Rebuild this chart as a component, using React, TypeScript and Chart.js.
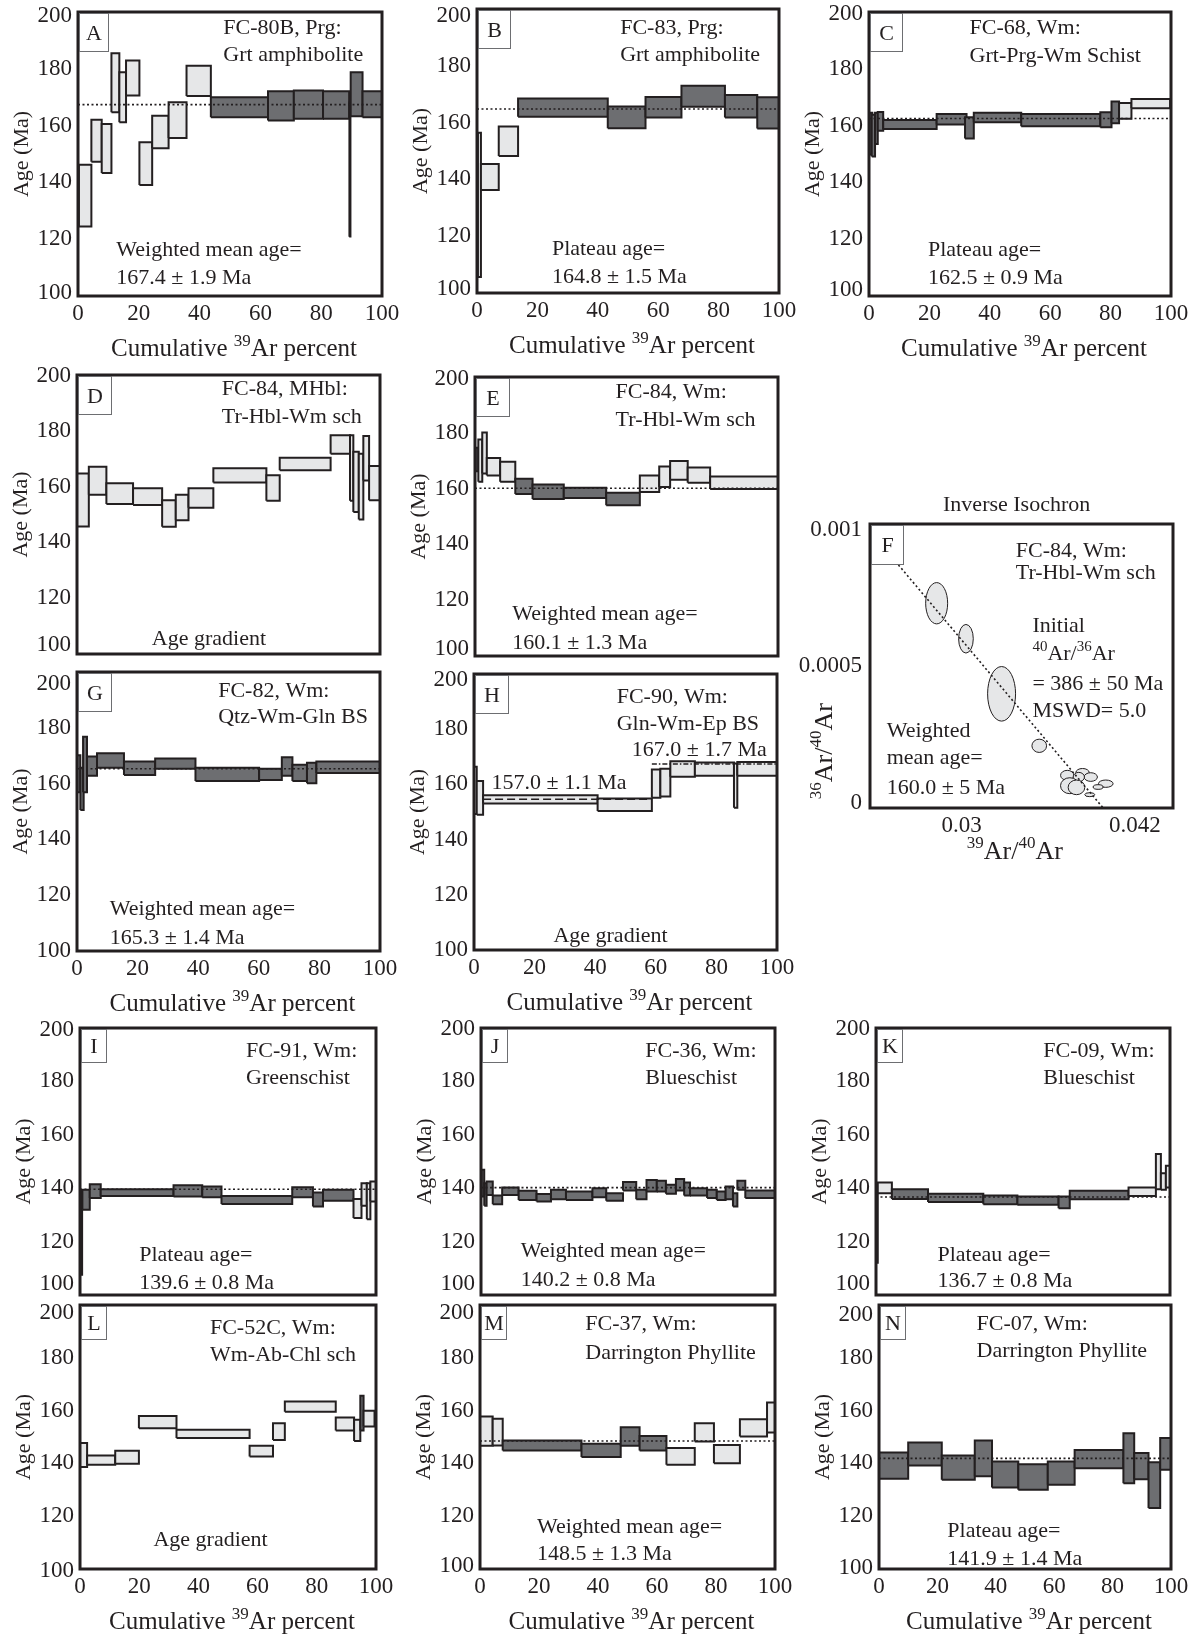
import React, { useEffect, useRef } from 'react';
import { Chart, registerables } from 'chart.js';

Chart.register(...registerables);

const SERIF = '"Liberation Serif", "Times New Roman", Times, serif';
const INK = '#231f20';
const FILL_LIGHT = '#e6e7e8';
const FILL_DARK = '#6d6e71';

// ---------------- data ----------------
// step: [from %39Ar, to %39Ar, low age (Ma), high age (Ma), tone]
type Tone = 'L' | 'D' | 'K';
type Step = [number, number, number, number, Tone];

const ageTicks = [100, 120, 140, 160, 180, 200];
const pctTicks = [0, 20, 40, 60, 80, 100];

const stepsA: Step[] = [
  [0.3, 4.4, 124.5, 146.2, 'L'],
  [4.4, 7.8, 147.3, 162.1, 'L'],
  [7.8, 11.0, 143.3, 160.6, 'L'],
  [11.0, 13.6, 164.7, 185.5, 'L'],
  [13.6, 15.8, 161.2, 178.8, 'L'],
  [15.8, 20.2, 170.6, 182.9, 'L'],
  [20.2, 24.4, 139.1, 154.1, 'L'],
  [24.4, 29.8, 152.0, 163.5, 'L'],
  [29.8, 35.7, 155.6, 168.2, 'L'],
  [35.7, 43.7, 170.4, 181.1, 'L'],
  [43.7, 62.5, 162.9, 170.0, 'D'],
  [62.5, 71.0, 161.8, 172.1, 'D'],
  [71.0, 80.6, 162.4, 172.4, 'D'],
  [80.6, 89.2, 162.4, 172.1, 'D'],
  [89.2, 89.7, 120.9, 168.2, 'K'],
  [89.7, 93.6, 163.3, 178.8, 'D'],
  [93.6, 100, 162.9, 172.1, 'D'],
];
const meanA = 167.4;

const stepsB: Step[] = [
  [0.3, 1.3, 105.6, 156.4, 'L'],
  [1.3, 7.2, 136.3, 145.4, 'L'],
  [7.2, 13.6, 148.2, 158.6, 'L'],
  [13.6, 43.3, 162.1, 168.5, 'D'],
  [43.3, 55.8, 158.0, 165.7, 'D'],
  [55.8, 67.7, 161.8, 169.0, 'D'],
  [67.7, 82.1, 165.6, 173.0, 'D'],
  [82.1, 92.8, 161.8, 169.7, 'D'],
  [92.8, 100, 157.9, 168.9, 'D'],
];
const meanB = 164.8;

const stepsC: Step[] = [
  [0.2, 1.1, 149.8, 164.5, 'D'],
  [0.9, 2.0, 149.1, 163.8, 'D'],
  [2.0, 2.9, 153.5, 164.5, 'D'],
  [2.9, 4.7, 158.2, 164.8, 'D'],
  [4.7, 22.4, 158.8, 162.0, 'D'],
  [22.4, 32.3, 160.4, 164.1, 'D'],
  [31.8, 34.7, 155.5, 162.9, 'D'],
  [34.7, 50.4, 161.2, 164.5, 'D'],
  [50.4, 76.6, 159.8, 164.1, 'D'],
  [76.6, 80.3, 159.4, 164.7, 'D'],
  [80.3, 82.8, 160.8, 168.5, 'D'],
  [82.8, 86.9, 162.4, 168.0, 'L'],
  [86.9, 99.7, 166.1, 169.4, 'L'],
];
const meanC = 162.5;

const stepsD: Step[] = [
  [0, 3.9, 145.7, 164.7, 'L'],
  [3.9, 9.7, 157.1, 167.1, 'L'],
  [9.7, 18.5, 153.8, 161.2, 'L'],
  [18.5, 28.1, 153.4, 159.4, 'L'],
  [28.1, 32.6, 145.6, 155.1, 'L'],
  [32.6, 36.8, 147.9, 157.1, 'L'],
  [36.8, 45.0, 152.4, 159.4, 'L'],
  [45.0, 62.5, 161.5, 166.6, 'L'],
  [62.5, 66.9, 154.9, 164.1, 'L'],
  [66.9, 83.7, 165.9, 170.3, 'L'],
  [83.7, 90.1, 171.8, 178.4, 'L'],
  [90.1, 91.2, 154.9, 178.4, 'L'],
  [91.2, 93.0, 150.9, 172.5, 'L'],
  [93.0, 94.5, 148.2, 171.8, 'L'],
  [94.5, 96.4, 162.2, 178.1, 'L'],
  [96.4, 100, 155.1, 167.4, 'L'],
];

const stepsE: Step[] = [
  [0.2, 1.1, 166.2, 174.6, 'D'],
  [1.1, 2.4, 162.5, 177.6, 'L'],
  [2.4, 3.9, 165.4, 180.1, 'L'],
  [3.9, 8.3, 164.7, 171.0, 'L'],
  [8.3, 13.3, 162.5, 169.6, 'L'],
  [13.3, 19.0, 158.1, 163.5, 'D'],
  [19.0, 29.3, 156.3, 161.5, 'D'],
  [29.3, 43.3, 156.6, 160.3, 'D'],
  [43.3, 54.4, 154.0, 158.5, 'D'],
  [54.4, 60.8, 158.8, 164.7, 'L'],
  [60.8, 64.4, 160.6, 167.9, 'L'],
  [64.4, 70.2, 163.2, 169.9, 'L'],
  [70.2, 77.6, 162.1, 167.6, 'L'],
  [77.6, 100, 159.9, 164.3, 'L'],
];
const meanE = 160.1;

const stepsG: Step[] = [
  [0, 1.1, 156.9, 170.2, 'D'],
  [1.1, 2.2, 150.5, 165.7, 'D'],
  [2.0, 3.3, 156.9, 176.8, 'D'],
  [3.3, 6.6, 162.8, 169.7, 'D'],
  [6.6, 15.5, 165.7, 170.9, 'D'],
  [15.5, 25.8, 163.1, 167.9, 'D'],
  [25.8, 39.1, 165.3, 169.0, 'D'],
  [39.1, 60.1, 160.9, 165.7, 'D'],
  [60.1, 67.6, 161.3, 165.3, 'D'],
  [67.6, 71.1, 162.8, 169.4, 'D'],
  [71.1, 75.9, 160.9, 166.8, 'D'],
  [75.9, 79.0, 160.1, 167.5, 'D'],
  [79.0, 100, 163.8, 167.9, 'D'],
];
const meanG = 165.3;

const stepsH: Step[] = [
  [0, 0.9, 149.3, 166.4, 'L'],
  [0.9, 3.0, 149.0, 161.2, 'L'],
  [3.0, 40.8, 153.1, 156.1, 'L'],
  [40.8, 58.7, 150.4, 154.9, 'L'],
  [58.7, 61.5, 155.2, 165.4, 'L'],
  [61.5, 64.8, 155.6, 165.7, 'L'],
  [64.8, 72.9, 162.8, 168.4, 'L'],
  [72.9, 85.8, 163.1, 167.9, 'L'],
  [85.8, 86.9, 151.5, 167.6, 'L'],
  [86.9, 100, 163.1, 168.1, 'L'],
];
const lowPlateauH = 154.6;
const highPlateauH = 167.4;

const stepsI: Step[] = [
  [0, 0.8, 107.5, 139.4, 'K'],
  [0.8, 3.3, 131.9, 139.4, 'D'],
  [3.3, 7.0, 136.3, 141.5, 'D'],
  [7.0, 31.6, 137.1, 139.6, 'D'],
  [31.6, 41.3, 136.9, 141.1, 'D'],
  [41.3, 47.8, 136.6, 140.6, 'D'],
  [47.8, 71.7, 134.1, 137.1, 'D'],
  [71.7, 78.7, 136.6, 140.4, 'D'],
  [78.7, 82.1, 133.1, 138.4, 'D'],
  [82.1, 92.4, 135.3, 139.4, 'D'],
  [92.4, 95.1, 128.8, 136.0, 'L'],
  [95.1, 96.9, 133.4, 141.9, 'L'],
  [96.9, 98.1, 128.4, 141.9, 'L'],
  [98.1, 100, 135.0, 142.5, 'L'],
];
const meanI = 139.6;

const stepsJ: Step[] = [
  [0.2, 1.1, 136.9, 146.9, 'D'],
  [1.1, 1.9, 133.4, 141.9, 'D'],
  [1.9, 4.0, 137.5, 142.5, 'D'],
  [4.0, 7.2, 134.0, 137.3, 'D'],
  [7.2, 12.8, 137.5, 140.3, 'D'],
  [12.8, 18.9, 135.6, 139.0, 'D'],
  [18.9, 23.8, 135.0, 137.8, 'D'],
  [23.8, 28.9, 135.9, 139.4, 'D'],
  [28.9, 37.9, 135.6, 138.8, 'D'],
  [37.9, 42.6, 136.6, 140.0, 'D'],
  [42.6, 48.3, 135.3, 138.1, 'D'],
  [48.3, 52.8, 139.1, 142.3, 'D'],
  [52.8, 56.3, 135.9, 139.4, 'D'],
  [56.3, 59.8, 138.8, 143.1, 'D'],
  [59.8, 62.9, 138.8, 142.8, 'D'],
  [62.9, 66.3, 137.9, 141.3, 'D'],
  [66.3, 69.1, 139.1, 143.4, 'D'],
  [69.1, 71.1, 137.3, 142.1, 'D'],
  [71.1, 76.9, 137.3, 140.0, 'D'],
  [76.9, 80.2, 136.3, 139.4, 'D'],
  [80.2, 83.2, 135.6, 138.8, 'D'],
  [83.2, 85.7, 135.9, 140.6, 'D'],
  [85.7, 87.2, 133.1, 138.1, 'D'],
  [87.2, 89.9, 139.4, 142.8, 'D'],
  [89.9, 100, 136.3, 139.1, 'D'],
];
const meanJ = 140.2;

const stepsK: Step[] = [
  [0, 0.6, 112.1, 139.4, 'L'],
  [0.6, 5.4, 138.1, 142.1, 'L'],
  [5.4, 17.7, 136.0, 139.6, 'D'],
  [17.7, 36.5, 134.8, 137.9, 'D'],
  [36.5, 48.1, 134.0, 137.3, 'D'],
  [48.1, 62.1, 133.8, 136.9, 'D'],
  [62.1, 65.9, 132.5, 136.9, 'D'],
  [65.9, 85.9, 135.9, 139.0, 'D'],
  [85.9, 95.2, 137.1, 140.3, 'L'],
  [95.2, 96.9, 139.6, 152.8, 'L'],
  [96.9, 98.6, 139.4, 145.6, 'L'],
  [98.6, 100, 140.3, 148.4, 'L'],
];
const meanK = 136.7;

const stepsL: Step[] = [
  [0, 2.4, 138.6, 147.7, 'L'],
  [2.4, 11.9, 139.5, 143.0, 'L'],
  [11.9, 19.9, 139.9, 144.8, 'L'],
  [19.9, 32.6, 153.3, 158.0, 'L'],
  [32.6, 57.3, 149.6, 152.7, 'L'],
  [57.3, 65.2, 142.6, 146.7, 'L'],
  [65.2, 69.2, 148.9, 155.2, 'L'],
  [69.2, 86.4, 159.6, 163.4, 'L'],
  [86.4, 92.6, 152.5, 157.4, 'L'],
  [92.6, 94.7, 148.5, 156.5, 'L'],
  [94.7, 95.8, 152.5, 165.6, 'D'],
  [95.8, 99.5, 154.0, 159.9, 'L'],
];

const stepsM: Step[] = [
  [0, 4.3, 146.7, 157.8, 'L'],
  [4.3, 7.7, 146.8, 156.9, 'L'],
  [7.7, 34.4, 144.9, 148.7, 'D'],
  [34.4, 47.7, 142.4, 147.4, 'D'],
  [47.7, 54.1, 146.7, 153.7, 'D'],
  [54.1, 63.2, 144.9, 150.4, 'D'],
  [63.2, 72.8, 139.5, 145.8, 'L'],
  [72.8, 79.3, 148.3, 155.2, 'L'],
  [79.3, 88.1, 140.1, 147.0, 'L'],
  [88.1, 97.3, 150.2, 156.7, 'L'],
  [97.3, 100, 151.7, 163.1, 'L'],
];
const meanM = 148.5;

const stepsN: Step[] = [
  [0, 10, 134.2, 144.1, 'D'],
  [10, 21.5, 139.2, 147.9, 'D'],
  [21.5, 32.8, 133.8, 143.0, 'D'],
  [32.8, 38.7, 135.1, 148.7, 'D'],
  [38.7, 47.7, 130.9, 140.7, 'D'],
  [47.7, 57.8, 130.0, 139.7, 'D'],
  [57.8, 67.0, 131.9, 140.7, 'D'],
  [67.0, 83.7, 138.2, 145.1, 'D'],
  [83.7, 87.4, 132.5, 151.4, 'D'],
  [87.4, 92.3, 134.0, 143.9, 'D'],
  [92.3, 96.3, 123.1, 140.4, 'D'],
  [96.3, 100, 137.6, 149.6, 'D'],
];
const meanN = 141.9;

// Inverse isochron (panel F): ellipse centres and semi-axes
const isoX = [0.02827, 0.0303, 0.03277, 0.03538, 0.03732, 0.03838, 0.03895, 0.03812, 0.0375, 0.03796, 0.03999, 0.03946, 0.03888];
const isoY = [0.000721, 0.000596, 0.000402, 0.000219, 0.000115, 0.000125, 0.000109, 0.000109, 0.0000785, 0.0000727, 0.0000856, 0.0000739, 0.0000469];
const isoRx = [0.000762, 0.000508, 0.000969, 0.000508, 0.000462, 0.000462, 0.000462, 0.000392, 0.000646, 0.000577, 0.000508, 0.000346, 0.000346];
const isoRy = [0.0000727, 0.0000504, 0.0000961, 0.0000234, 0.0000176, 0.0000141, 0.0000152, 0.0000164, 0.0000281, 0.0000258, 0.0000129, 0.0000082, 0.000007];
const isoLineX = [0.02562, 0.03981];
const isoLineY = [0.000856, 0];
const isoXMin = 0.02365;
const isoXMax = 0.04465;
const isoXTicks = [0.03, 0.042];
const isoXTickLabels = ['0.03', '0.042'];
const isoYTicks = [0, 0.0005, 0.001];
const isoYTickLabels = ['0', '0.0005', '0.001'];

// ---------------- layout / drawing helpers ----------------
const PAD_L = 80;
const PAD_T = 30;
const PAD_R = 30;
const PAD_B = 70;

type Seg = { t: string; sup?: boolean };
type Note = { segs: Seg[]; fx: number; fy: number; align?: 'left' | 'center' };
type Box = { l: number; t: number; r: number; b: number };
type RefLine = { y: number; from: number; to: number; dash: number[] };

const txt = (t: string, fx: number, fy: number): Note => ({ segs: [{ t }], fx, fy, align: 'left' });
const S = (t: string): Seg => ({ t });
const SUP = (t: string): Seg => ({ t, sup: true });

function drawRich(ctx: CanvasRenderingContext2D, segs: Seg[], x: number, y: number, size: number, align: string) {
  const supSize = Math.round(size * 0.66);
  const ws = segs.map((s) => {
    ctx.font = `${s.sup ? supSize : size}px ${SERIF}`;
    return ctx.measureText(s.t).width;
  });
  const total = ws.reduce((a, b) => a + b, 0);
  let cx = align === 'center' ? x - total / 2 : x;
  const base = y + size * 0.33;
  ctx.textAlign = 'left';
  ctx.textBaseline = 'alphabetic';
  ctx.fillStyle = INK;
  segs.forEach((s, i) => {
    ctx.font = `${s.sup ? supSize : size}px ${SERIF}`;
    ctx.fillText(s.t, cx, s.sup ? base - size * 0.42 : base);
    cx += ws[i];
  });
}

type Decor = {
  letter: string;
  letterBox: [number, number];
  notes: Note[];
  xTitle?: Seg[] | null;
  xTitleSize?: number;
  xTitleDy?: number;
  xTitleFx?: number;
  yTitle: Seg[];
  yTitleSize?: number;
  yTitleDx?: number;
  yTitleFy?: number;
  topTitle?: string;
};

function makeDecor(d: Decor) {
  return {
    id: 'decor',
    afterDatasetsDraw(chart: any) {
      const { ctx, chartArea: a } = chart;
      const w = a.right - a.left;
      const h = a.bottom - a.top;
      ctx.save();
      ctx.setLineDash([]);
      ctx.lineWidth = 3;
      ctx.strokeStyle = INK;
      ctx.strokeRect(a.left, a.top, w, h);
      const [bw, bh] = d.letterBox;
      ctx.fillStyle = '#ffffff';
      ctx.fillRect(a.left + 1.5, a.top + 1.5, bw, bh);
      ctx.lineWidth = 1;
      ctx.strokeStyle = '#6d6e71';
      ctx.strokeRect(a.left + 1.5, a.top + 1.5, bw, bh);
      drawRich(ctx, [S(d.letter)], a.left + 1.5 + bw / 2, a.top + 1.5 + bh / 2, 22, 'center');
      for (const n of d.notes) {
        drawRich(ctx, n.segs, a.left + n.fx * w, a.top + n.fy * h, 22, n.align || 'left');
      }
      if (d.topTitle) drawRich(ctx, [S(d.topTitle)], a.left + 0.484 * w, a.top - 20, 22, 'center');
      if (d.xTitle) {
        drawRich(ctx, d.xTitle, a.left + (d.xTitleFx ?? 0.5) * w + 4, a.bottom + (d.xTitleDy ?? 52), d.xTitleSize ?? 25, 'center');
      }
      ctx.save();
      ctx.translate(a.left + (d.yTitleDx ?? -57), a.top + (d.yTitleFy ?? 0.5) * h);
      ctx.rotate(-Math.PI / 2);
      drawRich(ctx, d.yTitle, 0, 0, d.yTitleSize ?? 22, 'center');
      ctx.restore();
      ctx.restore();
    },
  };
}

// y tick labels at the ends of the axis are set slightly inside the frame, as in the figure
function endNudge(values: number[], nudge: [number, number]) {
  return (s: any) => {
    s.ticks = values.map((v) => ({ value: v }));
    const last = values.length - 1;
    s.getPixelForTick = function (i: number) {
      const px = this.getPixelForValue(this.ticks[i].value);
      if (i === 0) return px - nudge[0];
      if (i === last) return px + nudge[1];
      return px;
    };
  };
}

const ageTitle: Seg[] = [S('Age (Ma)')];
const cumTitle: Seg[] = [S('Cumulative '), SUP('39'), S('Ar percent')];

type StepPanel = {
  letter: string;
  box: Box;
  steps: Step[];
  refs: RefLine[];
  xLabels: boolean;
  notes: Note[];
  letterBox: [number, number];
  nudge: [number, number];
};

const tickFont = { family: SERIF, size: 23 };
const dotted = [2, 2.5];

function stepConfig(p: StepPanel): any {
  const n = p.steps.length;
  const datasets: any[] = p.steps.map((s, i) => ({
    data: [
      { x: s[0], y: s[2] },
      { x: s[1], y: s[2] },
      { x: s[1], y: s[3] },
      { x: s[0], y: s[3] },
      { x: s[0], y: s[2] },
    ],
    borderColor: INK,
    borderWidth: s[4] === 'K' ? 1.5 : 2,
    backgroundColor: s[4] === 'L' ? FILL_LIGHT : s[4] === 'D' ? FILL_DARK : INK,
    fill: 'shape',
    pointRadius: 0,
    tension: 0,
    borderJoinStyle: 'miter',
    order: n - i + 2,
  }));
  p.refs.forEach((r) => {
    datasets.push({
      data: [
        { x: r.from, y: r.y },
        { x: r.to, y: r.y },
      ],
      borderColor: INK,
      borderWidth: 1.6,
      borderDash: r.dash,
      pointRadius: 0,
      fill: false,
      order: 0,
    });
  });
  return {
    type: 'line',
    data: { datasets },
    options: {
      responsive: false,
      animation: false,
      events: [],
      layout: { padding: { top: PAD_T, right: PAD_R, left: 0, bottom: 0 } },
      plugins: { legend: { display: false }, tooltip: { enabled: false } },
      scales: {
        x: {
          type: 'linear',
          min: 0,
          max: 100,
          afterBuildTicks: (s: any) => {
            s.ticks = pctTicks.map((v) => ({ value: v }));
          },
          ticks: { display: p.xLabels, font: tickFont, color: INK, padding: 4, maxRotation: 0, autoSkip: false },
          grid: { display: false, drawTicks: false },
          border: { display: false },
          afterFit: (s: any) => {
            s.height = PAD_B;
          },
        },
        y: {
          type: 'linear',
          min: 100,
          max: 200,
          afterBuildTicks: endNudge(ageTicks, p.nudge),
          ticks: { font: tickFont, color: INK, padding: 6, autoSkip: false },
          grid: { display: false, drawTicks: false },
          border: { display: false },
          afterFit: (s: any) => {
            s.width = PAD_L;
          },
        },
      },
    },
    plugins: [
      makeDecor({
        letter: p.letter,
        letterBox: p.letterBox,
        notes: p.notes,
        xTitle: p.xLabels ? cumTitle : null,
        yTitle: ageTitle,
      }),
    ],
  };
}

const ellipsePlugin = {
  id: 'ellipses',
  beforeDatasetsDraw(chart: any) {
    const ds = chart.data.datasets[1];
    const xs = chart.scales.x;
    const ys = chart.scales.y;
    const { ctx, chartArea: a } = chart;
    ctx.save();
    ctx.beginPath();
    ctx.rect(a.left, a.top, a.right - a.left, a.bottom - a.top);
    ctx.clip();
    ds.data.forEach((p: any) => {
      const cx = xs.getPixelForValue(p.x);
      const cy = ys.getPixelForValue(p.y);
      const rx = Math.abs(xs.getPixelForValue(p.x + p.rx) - cx);
      const ry = Math.abs(ys.getPixelForValue(p.y + p.ry) - cy);
      ctx.beginPath();
      ctx.ellipse(cx, cy, rx, ry, 0, 0, Math.PI * 2);
      ctx.fillStyle = FILL_LIGHT;
      ctx.fill();
      ctx.lineWidth = 1;
      ctx.strokeStyle = INK;
      ctx.stroke();
    });
    ctx.restore();
  },
};

function isoConfig(): any {
  return {
    type: 'scatter',
    data: {
      datasets: [
        {
          data: isoLineX.map((x, i) => ({ x, y: isoLineY[i] })),
          showLine: true,
          borderColor: INK,
          borderWidth: 1.6,
          borderDash: dotted,
          pointRadius: 0,
          fill: false,
          order: 0,
        },
        {
          data: isoX.map((x, i) => ({ x, y: isoY[i], rx: isoRx[i], ry: isoRy[i] })),
          pointRadius: 0,
          showLine: false,
          order: 1,
        },
      ],
    },
    options: {
      responsive: false,
      animation: false,
      events: [],
      layout: { padding: { top: PAD_T, right: PAD_R, left: 0, bottom: 0 } },
      plugins: { legend: { display: false }, tooltip: { enabled: false } },
      scales: {
        x: {
          type: 'linear',
          min: isoXMin,
          max: isoXMax,
          afterBuildTicks: (s: any) => {
            s.ticks = isoXTicks.map((v) => ({ value: v }));
          },
          ticks: {
            font: tickFont,
            color: INK,
            padding: 4,
            maxRotation: 0,
            autoSkip: false,
            callback: (_v: any, i: number) => isoXTickLabels[i],
          },
          grid: { display: false, drawTicks: false },
          border: { display: false },
          afterFit: (s: any) => {
            s.height = PAD_B;
          },
        },
        y: {
          type: 'linear',
          min: isoYTicks[0],
          max: isoYTicks[2],
          afterBuildTicks: endNudge(isoYTicks, [5, 6]),
          ticks: {
            font: tickFont,
            color: INK,
            padding: 8,
            autoSkip: false,
            callback: (_v: any, i: number) => isoYTickLabels[i],
          },
          grid: { display: false, drawTicks: false },
          border: { display: false },
          afterFit: (s: any) => {
            s.width = PAD_L;
          },
        },
      },
    },
    plugins: [
      ellipsePlugin,
      makeDecor({
        letter: 'F',
        letterBox: [32, 39],
        topTitle: 'Inverse Isochron',
        notes: [
          txt('FC-84, Wm:', 0.481, 0.091),
          txt('Tr-Hbl-Wm sch', 0.481, 0.168),
          txt('Initial', 0.536, 0.355),
          { segs: [SUP('40'), S('Ar/'), SUP('36'), S('Ar')], fx: 0.536, fy: 0.455 },
          txt('= 386 ± 50 Ma', 0.536, 0.56),
          txt('MSWD= 5.0', 0.536, 0.654),
          txt('Weighted', 0.055, 0.724),
          txt('mean age=', 0.055, 0.818),
          txt('160.0 ± 5 Ma', 0.055, 0.924),
        ],
        xTitle: [SUP('39'), S('Ar/'), SUP('40'), S('Ar')],
        xTitleSize: 26,
        xTitleDy: 42,
        xTitleFx: 0.465,
        yTitle: [SUP('36'), S('Ar/'), SUP('40'), S('Ar')],
        yTitleSize: 26,
        yTitleDx: -47,
        yTitleFy: 0.8,
      }),
    ],
  };
}

// ---------------- panels ----------------
const mid: [number, number] = [33, 38];
const small: [number, number] = [25, 33];

const panels: StepPanel[] = [
  {
    letter: 'A', box: { l: 78, t: 12, r: 382, b: 296 }, steps: stepsA, nudge: [3, 4],
    refs: [{ y: meanA, from: 0, to: 100, dash: dotted }], xLabels: true, letterBox: [29, 38],
    notes: [txt('FC-80B, Prg:', 0.478, 0.053), txt('Grt amphibolite', 0.478, 0.147), txt('Weighted mean age=', 0.126, 0.833), txt('167.4 ± 1.9 Ma', 0.126, 0.933)],
  },
  {
    letter: 'B', box: { l: 477, t: 9, r: 779, b: 293 }, steps: stepsB, nudge: [4, 7],
    refs: [{ y: meanB, from: 0, to: 100, dash: dotted }], xLabels: true, letterBox: [32, 38],
    notes: [txt('FC-83, Prg:', 0.474, 0.062), txt('Grt amphibolite', 0.474, 0.156), txt('Plateau age=', 0.248, 0.842), txt('164.8 ± 1.5 Ma', 0.248, 0.939)],
  },
  {
    letter: 'C', box: { l: 869, t: 12, r: 1171, b: 296 }, steps: stepsC, nudge: [6, 2],
    refs: [{ y: meanC, from: 0, to: 100, dash: dotted }], xLabels: true, letterBox: [32, 38],
    notes: [txt('FC-68, Wm:', 0.333, 0.051), txt('Grt-Prg-Wm Schist', 0.333, 0.151), txt('Plateau age=', 0.195, 0.833), txt('162.5 ± 0.9 Ma', 0.195, 0.933)],
  },
  {
    letter: 'D', box: { l: 77, t: 375, r: 380, b: 654 }, steps: stepsD, nudge: [9, 1],
    refs: [], xLabels: false, letterBox: mid,
    notes: [txt('FC-84, MHbl:', 0.478, 0.047), txt('Tr-Hbl-Wm sch', 0.478, 0.147), txt('Age gradient', 0.247, 0.941)],
  },
  {
    letter: 'E', box: { l: 475, t: 377, r: 778, b: 656 }, steps: stepsE, nudge: [7, 2],
    refs: [{ y: meanE, from: 0, to: 100, dash: dotted }], xLabels: false, letterBox: mid,
    notes: [txt('FC-84, Wm:', 0.464, 0.051), txt('Tr-Hbl-Wm sch', 0.464, 0.151), txt('Weighted mean age=', 0.123, 0.846), txt('160.1 ± 1.3 Ma', 0.123, 0.949)],
  },
  {
    letter: 'G', box: { l: 77, t: 672, r: 380, b: 951 }, steps: stepsG, nudge: [0, 12],
    refs: [{ y: meanG, from: 0, to: 100, dash: dotted }], xLabels: true, letterBox: mid,
    notes: [txt('FC-82, Wm:', 0.466, 0.062), txt('Qtz-Wm-Gln BS', 0.466, 0.158), txt('Weighted mean age=', 0.108, 0.845), txt('165.3 ± 1.4 Ma', 0.108, 0.948)],
  },
  {
    letter: 'H', box: { l: 474, t: 674, r: 777, b: 950 }, steps: stepsH, nudge: [0, 6],
    refs: [
      { y: lowPlateauH, from: 3, to: 58.7, dash: [8, 4] },
      { y: highPlateauH, from: 58.7, to: 100, dash: [5, 2, 1.5, 2] },
    ],
    xLabels: true, letterBox: mid,
    notes: [txt('FC-90, Wm:', 0.471, 0.078), txt('Gln-Wm-Ep BS', 0.471, 0.175), txt('167.0 ± 1.7 Ma', 0.521, 0.272), txt('157.0 ± 1.1 Ma', 0.058, 0.391), txt('Age gradient', 0.262, 0.946)],
  },
  {
    letter: 'I', box: { l: 80, t: 1028, r: 376, b: 1295 }, steps: stepsI, nudge: [11, 2],
    refs: [{ y: meanI, from: 0, to: 100, dash: dotted }], xLabels: false, letterBox: small,
    notes: [txt('FC-91, Wm:', 0.561, 0.081), txt('Greenschist', 0.561, 0.181), txt('Plateau age=', 0.2, 0.844), txt('139.6 ± 0.8 Ma', 0.2, 0.95)],
  },
  {
    letter: 'J', box: { l: 481, t: 1028, r: 775, b: 1295 }, steps: stepsJ, nudge: [11, 1],
    refs: [{ y: meanJ, from: 0, to: 100, dash: dotted }], xLabels: false, letterBox: small,
    notes: [txt('FC-36, Wm:', 0.559, 0.081), txt('Blueschist', 0.559, 0.181), txt('Weighted mean age=', 0.135, 0.831), txt('140.2 ± 0.8 Ma', 0.135, 0.9375)],
  },
  {
    letter: 'K', box: { l: 876, t: 1028, r: 1170, b: 1295 }, steps: stepsK, nudge: [11, 1],
    refs: [{ y: meanK, from: 0, to: 100, dash: dotted }], xLabels: false, letterBox: small,
    notes: [txt('FC-09, Wm:', 0.569, 0.081), txt('Blueschist', 0.569, 0.181), txt('Plateau age=', 0.209, 0.844), txt('136.7 ± 0.8 Ma', 0.209, 0.944)],
  },
  {
    letter: 'L', box: { l: 80, t: 1305, r: 376, b: 1569 }, steps: stepsL, nudge: [-2, 8],
    refs: [], xLabels: true, letterBox: small,
    notes: [txt('FC-52C, Wm:', 0.439, 0.082), txt('Wm-Ab-Chl sch', 0.439, 0.183), txt('Age gradient', 0.248, 0.886)],
  },
  {
    letter: 'M', box: { l: 480, t: 1305, r: 775, b: 1569 }, steps: stepsM, nudge: [3, 8],
    refs: [{ y: meanM, from: 0, to: 100, dash: dotted }], xLabels: true, letterBox: small,
    notes: [txt('FC-37, Wm:', 0.357, 0.069), txt('Darrington Phyllite', 0.357, 0.177), txt('Weighted mean age=', 0.193, 0.836), txt('148.5 ± 1.3 Ma', 0.193, 0.939)],
  },
  {
    letter: 'N', box: { l: 879, t: 1305, r: 1171, b: 1569 }, steps: stepsN, nudge: [1, 10],
    refs: [{ y: meanN, from: 0, to: 100, dash: dotted }], xLabels: true, letterBox: small,
    notes: [txt('FC-07, Wm:', 0.334, 0.069), txt('Darrington Phyllite', 0.334, 0.17), txt('Plateau age=', 0.234, 0.851), txt('141.9 ± 1.4 Ma', 0.234, 0.958)],
  },
];

const isoBox: Box = { l: 870, t: 524, r: 1173, b: 808 };

function ChartCanvas({ box, make }: { box: Box; make: () => any }) {
  const ref = useRef<HTMLCanvasElement>(null);
  useEffect(() => {
    if (!ref.current) return;
    const chart = new Chart(ref.current, make());
    return () => chart.destroy();
  }, []);
  const w = box.r - box.l + PAD_L + PAD_R;
  const h = box.b - box.t + PAD_T + PAD_B;
  return (
    <canvas
      ref={ref}
      width={w}
      height={h}
      style={{ position: 'absolute', left: box.l - PAD_L, top: box.t - PAD_T, width: w, height: h }}
    />
  );
}

export default function App() {
  return (
    <div style={{ position: 'absolute', left: 0, top: 0, width: 1189, height: 1637, background: '#ffffff', overflow: 'hidden' }}>
      {panels.map((p) => (
        <ChartCanvas key={p.letter} box={p.box} make={() => stepConfig(p)} />
      ))}
      <ChartCanvas key="F" box={isoBox} make={isoConfig} />
    </div>
  );
}
